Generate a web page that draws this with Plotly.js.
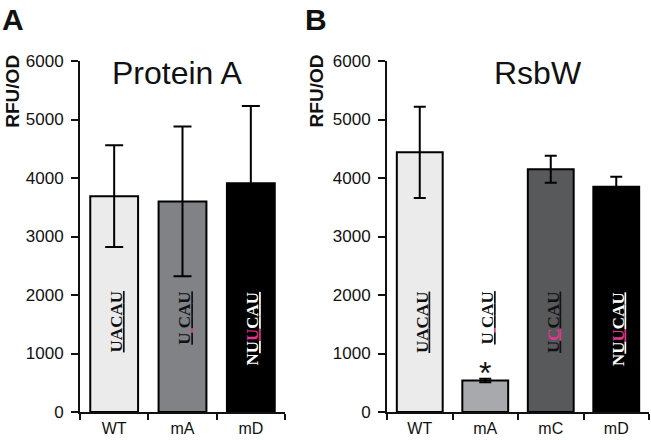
<!DOCTYPE html>
<html><head><meta charset="utf-8">
<script src="https://cdn.plot.ly/plotly-3.0.1.min.js"></script>
<style>html,body{margin:0;padding:0;background:#fff}#chart{width:651px;height:440px}</style>
</head><body><div id="chart"></div>
<script>
// Panel A: Protein A
const catsA = ['WT', 'mA', 'mD'];
const valsA = [3690, 3600, 3910];
const errA = [870, 1280, 1320];
const seqA = ['UACAU', 'U CAU', 'NUUCAU'];
const mutA = [-1, 1, 2];
const ulStartA = [0, 0, 1];
// Panel B: RsbW
const catsB = ['WT', 'mA', 'mC', 'mD'];
const valsB = [4440, 540, 4150, 3850];
const errB = [780, 30, 230, 170];
const seqB = ['UACAU', 'U CAU', 'UCCAU', 'NUUCAU'];
const mutB = [-1, 1, 1, 2];
const ulStartB = [0, 0, 0, 1];
const starB = [false, true, false, false];
const yTicks = [0, 1000, 2000, 3000, 4000, 5000, 6000];

const colorsA = ['#ebebeb', '#808285', '#000000'];
const colorsB = ['#ebebeb', '#a7a9ac', '#58595b', '#000000'];
const textColA = ['#111', '#111', '#fff'];
const textColB = ['#111', '#111', '#111', '#fff'];
const PINK = '#e0368f';
const FONT = 'Liberation Sans, Arial, sans-serif';

function seqHtml(s, mut, ul, col) {
  let out = '';
  for (let i = 0; i < s.length; i++) {
    let ch = s[i] === ' ' ? '\u00a0' : s[i];
    let c = (i === mut) ? PINK : col;
    let deco = i >= ul ? 'text-decoration:underline;text-underline-offset:4px;text-decoration-thickness:2px;' : '';
    out += '<span style="color:' + c + ';' + deco + '">' + ch + '</span>';
  }
  return out;
}

function barTrace(cats, vals, errs, colors, xa, ya, cap) {
  return {
    type: 'bar', x: cats, y: vals, xaxis: xa, yaxis: ya,
    width: 0.7,
    marker: {color: colors, line: {color: '#000', width: 2}},
    error_y: {type: 'data', array: errs, visible: true, color: '#000', thickness: 2, width: cap},
    hoverinfo: 'skip', showlegend: false
  };
}

const data = [
  barTrace(catsA, valsA, errA, colorsA, 'x', 'y', 9),
  barTrace(catsB, valsB, errB, colorsB, 'x2', 'y2', 6)
];

const annotations = [];
function addSeq(cats, seqs, muts, uls, cols, xr, yr) {
  cats.forEach((c, i) => {
    annotations.push({
      x: c, y: 2090, xref: xr, yref: yr, xanchor: 'center', yanchor: 'top',
      text: seqHtml(seqs[i], muts[i], uls[i], cols[i]), textangle: -90, showarrow: false,
      font: {family: 'Liberation Serif, serif', size: 17, color: cols[i], weight: 'bold'}, xshift: 2
    });
  });
}
addSeq(catsA, seqA, mutA, ulStartA, textColA, 'x', 'y');
addSeq(catsB, seqB, mutB, ulStartB, textColB, 'x2', 'y2');
catsB.forEach((c, i) => {
  if (starB[i]) annotations.push({
    x: c, y: valsB[i] + errB[i], xref: 'x2', yref: 'y2', yanchor: 'bottom', text: '*',
    showarrow: false, font: {family: FONT, size: 32, color: '#111'}, yshift: -14
  });
});
const titles = [
  {text: 'Protein A', x: 0.272},
  {text: 'RsbW', x: 0.826}
];
titles.forEach(t => annotations.push({
  text: t.text, x: t.x, y: 0.966, xref: 'paper', yref: 'paper', xanchor: 'center', yanchor: 'middle',
  showarrow: false, font: {family: FONT, size: 32, color: '#111'}
}));
const panels = [{text: 'A', x: 0.02}, {text: 'B', x: 0.485}];
panels.forEach(p => annotations.push({
  text: '<b>' + p.text + '</b>', x: p.x, y: 1.17, xref: 'paper', yref: 'paper', xanchor: 'center', yanchor: 'top',
  showarrow: false, font: {family: FONT, size: 30, color: '#111'}
}));
[0.018, 0.486].forEach(x => annotations.push({
  text: '<b>RFU/OD</b>', x: x, y: 0.9145, xref: 'paper', yref: 'paper', xanchor: 'center', yanchor: 'middle',
  textangle: -90, showarrow: false, font: {family: FONT, size: 19, color: '#111'}
}));

function yax(anchor) {
  return {
    anchor: anchor, range: [0, 6000], tickvals: yTicks, ticktext: yTicks.map(String),
    showgrid: false, zeroline: false, showline: true, linecolor: '#111', linewidth: 2,
    ticks: 'outside', ticklen: 7, tickwidth: 2, tickcolor: '#111', ticklabelstandoff: 4,
    tickfont: {family: FONT, size: 17, color: '#111'}, fixedrange: true
  };
}
function xax(anchor, domain) {
  return {
    anchor: anchor, domain: domain, showgrid: false, zeroline: false, showline: true,
    linecolor: '#111', linewidth: 2, ticks: 'outside', tickson: 'boundaries', ticklen: 6, tickwidth: 2,
    tickcolor: '#111', ticklabelstandoff: 1, tickfont: {family: FONT, size: 16, color: '#111'}, fixedrange: true
  };
}

const layout = {
  width: 651, height: 440,
  margin: {l: 0, r: 0, t: 61, b: 28},
  paper_bgcolor: '#fff', plot_bgcolor: 'rgba(0,0,0,0)',
  bargap: 0.3,
  xaxis: xax('y', [80 / 651, 285 / 651]),
  yaxis: yax('x'),
  xaxis2: xax('y2', [387 / 651, 649 / 651]),
  yaxis2: yax('x2'),
  annotations: annotations
};
Plotly.newPlot('chart', data, layout, {displayModeBar: false, staticPlot: true});
</script></body></html>
